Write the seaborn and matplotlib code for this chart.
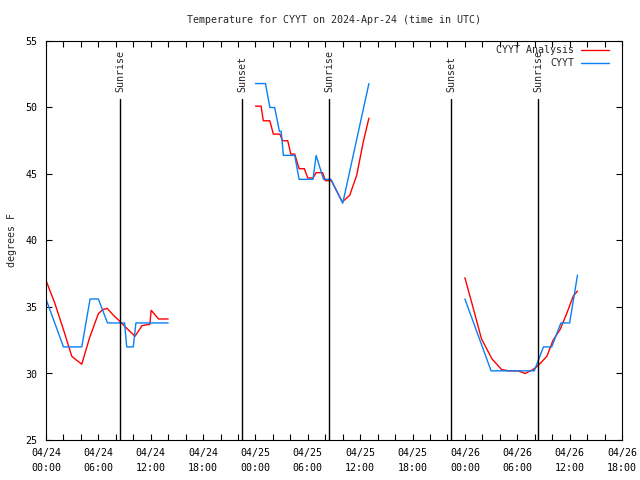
import pandas as pd
import matplotlib
matplotlib.use("Agg")
import matplotlib.pyplot as plt
import matplotlib.dates as mdates
import matplotlib.transforms as mtransforms
from matplotlib.lines import Line2D
import seaborn as sns

# ---------------- data ----------------
title = "Temperature for CYYT on 2024-Apr-24 (time in UTC)"
ylabel = "degrees F"
start = pd.Timestamp("2024-04-24 00:00")
end = pd.Timestamp("2024-04-26 18:00")
series_names = ["CYYT Analysis", "CYYT"]
series_colors = ["#ff0000", "#0a80f5"]

# CYYT Analysis (hours after 04/24 00:00 UTC, deg F, segment id)
analysis_hours = [0.0, 1.0, 2.0, 2.95, 3.5, 4.1, 5.0, 6.0, 6.5, 7.0, 7.7, 8.5, 9.25, 10.2, 11.0, 11.9, 12.05, 12.9, 14.0,
                  24.0, 24.65, 24.9, 25.65, 26.05, 26.8, 27.1, 27.7, 28.05, 28.5, 29.0, 29.6, 30.0, 30.6, 30.95, 31.7,
                  32.0, 32.7, 33.95, 34.8, 35.6, 36.35, 37.0,
                  48.0, 49.0, 49.9, 51.1, 52.2, 53.0, 54.1, 54.9, 55.8, 56.4, 57.4, 58.1, 58.9, 59.66, 60.4, 60.9]
analysis_temps = [37.0, 35.3, 33.3, 31.3, 31.0, 30.7, 32.7, 34.5, 34.8, 34.9, 34.4, 33.9, 33.4, 32.8, 33.6, 33.7, 34.75, 34.1, 34.1,
                  50.1, 50.1, 49.0, 49.0, 48.0, 48.0, 47.5, 47.5, 46.5, 46.5, 45.4, 45.4, 44.7, 44.7, 45.1, 45.1,
                  44.5, 44.5, 42.9, 43.4, 44.9, 47.4, 49.2,
                  37.2, 34.8, 32.6, 31.1, 30.3, 30.2, 30.2, 30.0, 30.3, 30.6, 31.3, 32.5, 33.3, 34.5, 35.8, 36.2]
analysis_seg = [1] * 19 + [2] * 23 + [3] * 16

# CYYT observations
obs_hours = [0.0, 2.0, 4.1, 5.05, 6.0, 7.05, 9.0, 9.25, 10.0, 10.3, 14.0,
             24.0, 25.15, 25.65, 26.2, 26.75, 26.95, 27.2, 28.5, 29.0, 30.6, 30.95, 31.8, 32.65, 34.0, 35.0, 36.0, 37.0,
             48.0, 51.0, 55.95, 57.0, 57.95, 59.0, 60.0, 60.9]
obs_temps = [35.6, 32.0, 32.0, 35.6, 35.6, 33.8, 33.8, 32.0, 32.0, 33.8, 33.8,
             51.8, 51.8, 50.0, 50.0, 48.2, 48.2, 46.4, 46.4, 44.6, 44.6, 46.4, 44.6, 44.6, 42.8, 45.8, 48.8, 51.8,
             35.6, 30.2, 30.2, 32.0, 32.0, 33.8, 33.8, 37.4]
obs_seg = [1] * 11 + [2] * 17 + [3] * 8

sun_hours = [8.48, 22.47, 32.45, 46.45, 56.42]
sun_labels = ["Sunrise", "Sunset", "Sunrise", "Sunset", "Sunrise"]

# ---------------- build table ----------------
df = pd.concat([
    pd.DataFrame({"time": start + pd.to_timedelta(analysis_hours, unit="h"),
                  "temp": analysis_temps, "seg": analysis_seg, "series": series_names[0]}),
    pd.DataFrame({"time": start + pd.to_timedelta(obs_hours, unit="h"),
                  "temp": obs_temps, "seg": obs_seg, "series": series_names[1]}),
], ignore_index=True)

# ---------------- style ----------------
sns.set_style("ticks")
plt.rcParams["font.family"] = ["DejaVu Sans Mono", "DejaVu Sans"]
plt.rcParams["axes.linewidth"] = 0.8
fs = 7.2

fig = plt.figure(figsize=(6.4, 4.8), dpi=100)
ax = fig.add_axes([46 / 640, 40 / 480, 576 / 640, 399 / 480])

palette = dict(zip(series_names, series_colors))
sns.lineplot(data=df, x="time", y="temp", hue="series", units="seg", estimator=None,
             palette=palette, hue_order=series_names, sort=False, lw=1.0, legend=False, ax=ax)

ax.set_xlim(start, end)
ax.set_ylim(25, 55)
ax.set_yticks(range(25, 56, 5))
ax.xaxis.set_major_locator(mdates.HourLocator(byhour=range(0, 24, 6)))
ax.xaxis.set_minor_locator(mdates.HourLocator(byhour=range(0, 24, 2)))
ax.xaxis.set_major_formatter(mdates.DateFormatter("%m/%d\n%H:%M"))
ax.set_xlabel("")
ax.set_ylabel("")
for s in ax.spines.values():
    s.set_visible(True)
    s.set_color("black")
ax.tick_params(axis="both", which="both", direction="in", length=4, width=0.8,
               top=True, right=True, colors="black", labelsize=fs)
ax.tick_params(axis="x", which="major", pad=6)
ax.tick_params(axis="y", which="major", pad=6)

# sunrise / sunset markers
trans = mtransforms.blended_transform_factory(ax.transData, ax.transAxes)
for h, lab in zip(sun_hours, sun_labels):
    t = start + pd.Timedelta(hours=h)
    ax.axvline(t, ymin=0, ymax=0.855, color="black", lw=1.0)
    ax.text(t, 0.872, lab, transform=trans, rotation=90, ha="center", va="bottom", fontsize=fs)

# legend
handles = [Line2D([], [], color=c, lw=1.0) for c in series_colors]
ax.legend(handles, series_names, loc="upper right", bbox_to_anchor=(609 / 640, 1 - 45 / 480),
          bbox_transform=fig.transFigure, frameon=False, markerfirst=False, handlelength=2.8,
          handletextpad=0.7, labelspacing=0.3, borderpad=0, borderaxespad=0, fontsize=fs)

fig.text(334 / 640, 1 - 20 / 480, title, ha="center", va="center", fontsize=fs)
fig.text(12 / 640, 1 - 240 / 480, ylabel, rotation=90, ha="center", va="center", fontsize=fs)

fig.canvas.draw()
for tk in ax.xaxis.get_major_ticks():
    tk.label1.set_linespacing(1.55)

fig.savefig("out.png", dpi=100)
